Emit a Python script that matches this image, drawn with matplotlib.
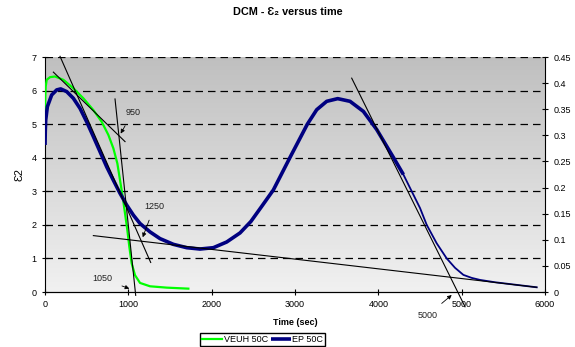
import numpy as np
import matplotlib
matplotlib.use("Agg")
import matplotlib.pyplot as plt

plt.rcParams['font.family'] = ['Liberation Sans', 'DejaVu Sans']

# VEUH 50C curve (time in sec, strain)
veuh_t = [0, 3, 8, 20, 60, 120, 220, 340, 460, 580, 680, 760, 820, 868, 900, 932, 960, 988, 1012,
          1040, 1080, 1140, 1260, 1460, 1720]
veuh_y = [5.22, 5.8, 6.12, 6.32, 6.40, 6.42, 6.32, 6.07, 5.77, 5.42, 5.07, 4.68, 4.28, 3.83, 3.33, 2.84,
          2.34, 1.84, 1.34, 0.85, 0.5, 0.27, 0.17, 0.13, 0.10]

# EP 50C curve
ep_t = [0, 3, 8, 28, 80, 140, 188, 260, 340, 420, 500, 580, 660, 740, 820, 900, 980, 1060, 1140, 1260,
        1380, 1540, 1700, 1860, 2020, 2180, 2340, 2470, 2600, 2740, 2940, 3148, 3260, 3380, 3512, 3660,
        3820, 3980, 4180, 4300, 4400, 4500, 4580, 4700, 4820, 4920, 5020, 5120, 5220, 5400, 5600, 5900]
ep_y = [4.38, 4.8, 5.12, 5.52, 5.87, 6.02, 6.05, 5.97, 5.77, 5.47, 5.07, 4.63, 4.18, 3.73, 3.33, 2.94,
        2.59, 2.29, 2.04, 1.79, 1.59, 1.42, 1.32, 1.28, 1.32, 1.49, 1.76, 2.1, 2.55, 3.04, 4.01, 5.0,
        5.43, 5.68, 5.76, 5.68, 5.38, 4.84, 4.01, 3.5, 3.0, 2.5, 2.0, 1.45, 1.0, 0.72, 0.51, 0.42, 0.36,
        0.29, 0.23, 0.14]
ep_thick_end = 4300

# tangent lines drawn on the chart: (t0, y0, t1, y1)
tangents = [
    (180, 7.02, 1268, 0.88),
    (100, 6.55, 960, 4.48),
    (840, 5.75, 1088, -0.1),
    (580, 1.68, 5900, 0.14),
    (3680, 6.37, 5040, -0.44),
]

# annotation labels: text, text position, arrow tip
notes = [
    ("950", (1052, 5.35), (908, 4.72)),
    ("1250", (1312, 2.55), (1172, 1.63)),
    ("1050", (692, 0.39), (1012, 0.1)),
    ("5000", (4592, -0.69), (4880, -0.09)),
]

fig = plt.figure(figsize=(5.75, 3.47), dpi=100)
ax = fig.add_axes([0.0783, 0.1585, 0.8696, 0.6772])

# gray gradient background, darker at top
shade = np.linspace(0.75, 0.945, 256)
grad = np.repeat(shade[:, None, None], 3, axis=2)
ax.imshow(grad, extent=[0, 6000, 0, 7], aspect='auto', origin='upper', zorder=0)

for g in range(1, 8):
    ax.axhline(g, color='black', lw=0.9, ls=(0, (6, 4)), zorder=1)

ax.plot(veuh_t, veuh_y, color='#00ff00', lw=1.6, label='VEUH 50C', zorder=3)
ep_t_arr = np.array(ep_t)
ep_y_arr = np.array(ep_y)
thick = ep_t_arr <= ep_thick_end
ax.plot(ep_t_arr[thick], ep_y_arr[thick], color='#000080', lw=2.6, label='EP 50C', zorder=3,
        solid_capstyle='butt', solid_joinstyle='round')
ax.plot(ep_t_arr[ep_t_arr >= 4180], ep_y_arr[ep_t_arr >= 4180], color='#000080', lw=1.3, zorder=3)

for t0, y0, t1, y1 in tangents:
    ax.plot([t0, t1], [y0, y1], color='black', lw=0.8, zorder=4, clip_on=False)

for txt, pos, tip in notes:
    ax.annotate(txt, xy=tip, xytext=pos, fontsize=6.5, color='#222222', ha='center', va='center',
                annotation_clip=False,
                arrowprops=dict(arrowstyle='-|>', color='black', lw=0.6, mutation_scale=6,
                                shrinkA=5, shrinkB=0))

ax.set_xlim(0, 6000)
ax.set_ylim(0, 7)
ax.set_xticks(range(0, 6001, 1000))
ax.set_yticks(range(0, 8))
ax.tick_params(direction='inout', length=5, width=0.8, labelsize=6.5, colors='black')
ax.spines['top'].set_visible(False)
ax.spines['right'].set_visible(False)
ax.set_xlabel('Time (sec)', fontsize=6.5, fontweight='bold', labelpad=6)
ax.set_ylabel('Ɛ2', fontsize=8, labelpad=5)

ax2 = ax.twinx()
ax2.set_ylim(0, 0.45)
ax2.set_yticks(np.arange(0, 0.451, 0.05))
ax2.set_yticklabels(['0', '0.05', '0.1', '0.15', '0.2', '0.25', '0.3', '0.35', '0.4', '0.45'])
ax2.tick_params(direction='inout', length=5, width=0.8, labelsize=6.5)
ax2.spines['top'].set_visible(False)
ax2.spines['left'].set_visible(False)

fig.text(0.5, 0.965, 'DCM - Ɛ₂ versus time', ha='center', va='center', fontsize=7.8, fontweight='bold')

h, l = ax.get_legend_handles_labels()
fig.legend(h, l, loc='center', bbox_to_anchor=(0.457, 0.0215), ncol=2, fontsize=6.5, frameon=True,
           fancybox=False, edgecolor='black', framealpha=1, borderpad=0.2, handlelength=2.2,
           handletextpad=0.2, columnspacing=0.3, borderaxespad=0)

fig.savefig('out.png', dpi=100)
